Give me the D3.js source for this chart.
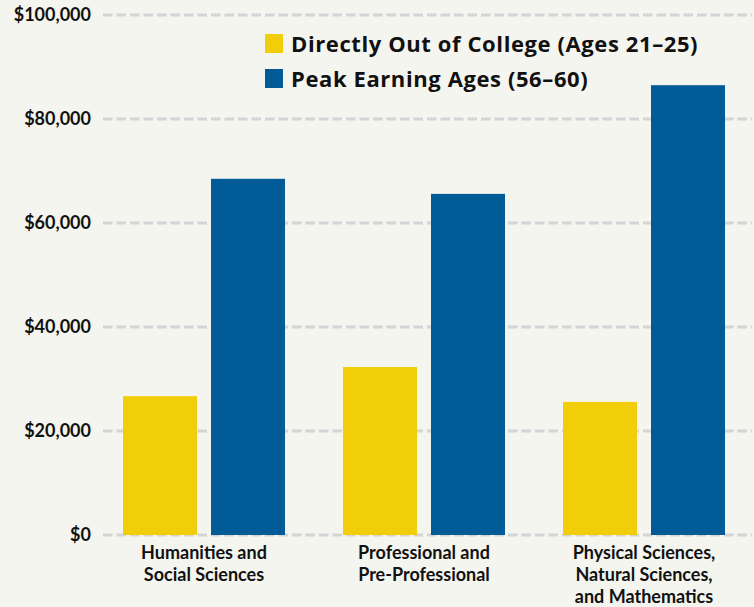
<!DOCTYPE html>
<html>
<head>
<meta charset="utf-8">
<script src="https://cdn.jsdelivr.net/npm/d3@7"></script>
<style>
  body { margin: 0; background: #f5f5f0; }
  svg { display: block; background: #f5f5f0; }
  .grid line { stroke: #d4d4d4; stroke-width: 3; stroke-dasharray: 9.5 4; }
  .ylab text { font-family: Lato, sans-serif; font-weight: 700; font-size: 18px; fill: #111; }
  .xlab text { font-family: Lato, sans-serif; font-weight: 700; font-size: 18px; fill: #111; }
  .legend text { font-family: "Open Sans", sans-serif; font-weight: 700; font-size: 22px; letter-spacing: 0.6px; fill: #111; }
</style>
</head>
<body>
<svg width="754" height="607"></svg>
<script>
'use strict';

var categories = [
    ['Humanities and', 'Social Sciences'],
    ['Professional and', 'Pre-Professional'],
    ['Physical Sciences,', 'Natural Sciences,', 'and Mathematics']
];
var seriesNames = ['Directly Out of College (Ages 21\u201325)', 'Peak Earning Ages (56\u201360)'];
var earlyValues = [26700, 32300, 25600];
var peakValues = [68500, 65600, 86500];
var yTicks = [0, 20000, 40000, 60000, 80000, 100000];
var colors = ['#f2cd0a', '#005b96'];

var svg = d3.select('svg');

var x = d3.scaleBand()
    .domain(d3.range(categories.length))
    .range([94, 754])
    .paddingInner(58 / 220)
    .paddingOuter(29 / 220);
var sub = d3.scaleBand()
    .domain([0, 1])
    .range([0, x.bandwidth()])
    .paddingInner(14 / 88);
var y = d3.scaleLinear()
    .domain([0, 100000])
    .range([535, 15]);

var fmt = d3.format('$,');

// dashed grid lines
svg.append('g')
    .attr('class', 'grid')
    .selectAll('line')
    .data(yTicks)
    .enter()
    .append('line')
    .attr('x1', 103)
    .attr('x2', 752)
    .attr('y1', function(d) { return y(d); })
    .attr('y2', function(d) { return y(d); });

svg.append('g')
    .attr('class', 'ylab')
    .selectAll('text')
    .data(yTicks)
    .enter()
    .append('text')
    .attr('x', 91)
    .attr('y', function(d) { return y(d); })
    .attr('dy', '0.36em')
    .attr('text-anchor', 'end')
    .text(function(d) { return fmt(d); });

var series = [earlyValues, peakValues];
var groups = svg.append('g')
    .selectAll('g')
    .data(categories)
    .enter()
    .append('g')
    .attr('transform', function(d, i) { return 'translate(' + x(i) + ',0)'; });

groups.selectAll('rect')
    .data(function(d, i) { return series.map(function(s) { return s[i]; }); })
    .enter()
    .append('rect')
    .attr('x', function(d, j) { return sub(j); })
    .attr('width', sub.bandwidth())
    .attr('y', function(d) { return y(d); })
    .attr('height', function(d) { return y(0) - y(d); })
    .attr('fill', function(d, j) { return colors[j]; });

var xl = svg.append('g')
    .attr('class', 'xlab')
    .selectAll('text')
    .data(categories)
    .enter()
    .append('text')
    .attr('x', function(d, i) { return x(i) + x.bandwidth() / 2; })
    .attr('y', 559)
    .attr('text-anchor', 'middle');
xl.selectAll('tspan')
    .data(function(d) { return d; })
    .enter()
    .append('tspan')
    .attr('x', function() { return d3.select(this.parentNode).attr('x'); })
    .attr('dy', function(d, k) { return k === 0 ? 0 : 22; })
    .text(function(d) { return d; });

// legend
var legend = svg.append('g')
    .attr('class', 'legend')
    .selectAll('g')
    .data(seriesNames)
    .enter()
    .append('g')
    .attr('transform', function(d, i) { return 'translate(265,' + (34 + i * 35) + ')'; });
legend.append('rect')
    .attr('width', 18)
    .attr('height', 19)
    .attr('fill', function(d, i) { return colors[i]; });
legend.append('text')
    .attr('x', 26)
    .attr('y', 18)
    .text(function(d) { return d; });
</script>
</body>
</html>
